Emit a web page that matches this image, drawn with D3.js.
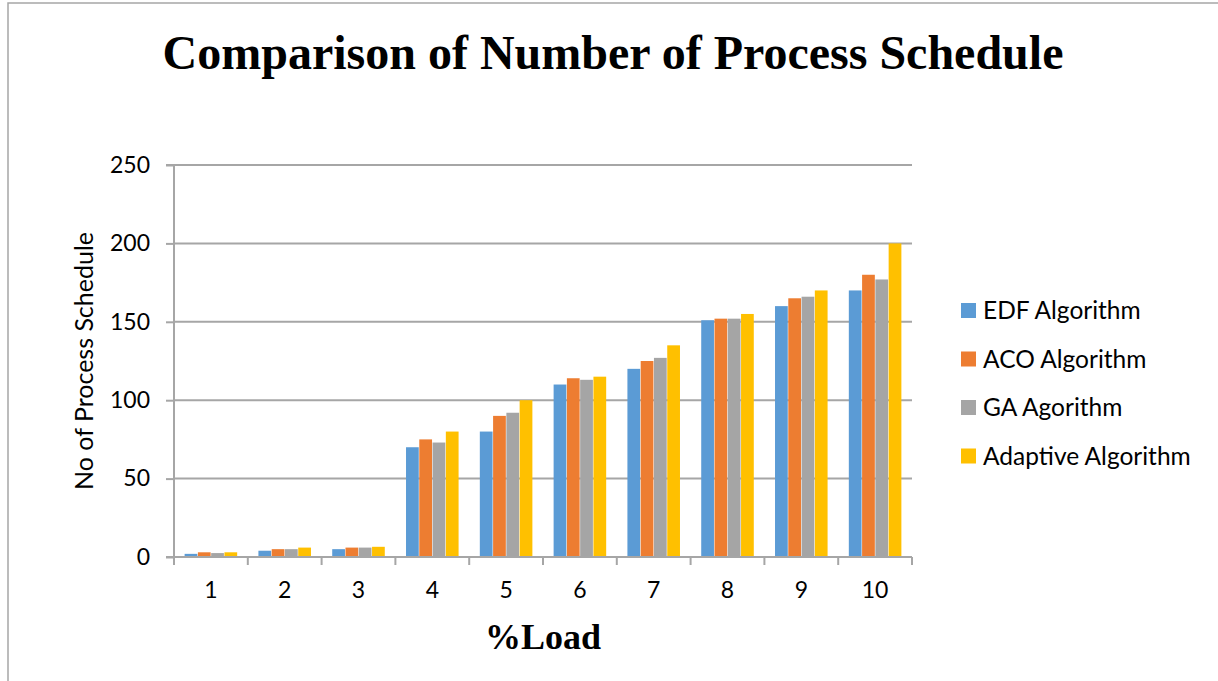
<!DOCTYPE html>
<html><head><meta charset="utf-8">
<script src="https://cdn.jsdelivr.net/npm/d3@7"></script>
<style>html,body{margin:0;padding:0;background:#fff;}svg{display:block;}</style>
</head><body>
<svg id="c" width="1218" height="681"></svg>
<script>
const categories = ["1","2","3","4","5","6","7","8","9","10"];
const seriesNames = ["EDF Algorithm","ACO Algorithm","GA Agorithm","Adaptive Algorithm"];
const edf = [2,4,5,70,80,110,120,151,160,170];
const aco = [3,5,6,75,90,114,125,152,165,180];
const ga = [2.5,5,6,73,92,113,127,152,166,177];
const adaptive = [3,6,6.5,80,100,115,135,155,170,200];
const yTicks = [0,50,100,150,200,250];
const colors = ["#5b9bd5","#ed7d31","#a5a5a5","#ffc000"];
const seriesValues = [edf, aco, ga, adaptive];

const FONT = "Lato, 'Open Sans', sans-serif";
const SERIF = "'Liberation Serif','Times New Roman',serif";
const svg = d3.select("#c");
// outer border
svg.append("rect").attr("x",8).attr("y",3).attr("width",1230).attr("height",700)
  .attr("fill","none").attr("stroke","#a6a6a6").attr("stroke-width",1.5);

const pLeft=174, pRight=912, pTop=165, pBottom=557;
const x0 = d3.scaleBand().domain(categories).range([pLeft,pRight]).padding(0);
const x1 = d3.scaleBand().domain(d3.range(4)).range([0,x0.bandwidth()]).paddingInner(0.04).paddingOuter(0.8);
const y = d3.scaleLinear().domain([0,250]).range([pBottom,pTop]);

// gridlines
svg.append("g").selectAll("line").data(yTicks.filter(d=>d>0)).join("line")
  .attr("x1",pLeft).attr("x2",pRight).attr("y1",d=>y(d)).attr("y2",d=>y(d))
  .attr("stroke","#a6a6a6").attr("stroke-width",2);

// bars
seriesValues.forEach((vals,si)=>{
  svg.append("g").selectAll("rect").data(vals).join("rect")
    .attr("x",(d,i)=>x0(categories[i])+x1(si))
    .attr("width",x1.bandwidth())
    .attr("y",d=>y(d)).attr("height",d=>y(0)-y(d))
    .attr("fill",colors[si]);
});

// y axis
const yAxis = d3.axisLeft(y).tickValues(yTicks).tickSize(8).tickPadding(16);
const gy = svg.append("g").attr("transform",`translate(${pLeft},0)`).call(yAxis);
gy.select(".domain").attr("stroke","#a6a6a6").attr("stroke-width",2).attr("d",`M-8,${pTop}H0V${pBottom}H-8`);
gy.selectAll(".tick line").attr("stroke","#a6a6a6").attr("stroke-width",2);
gy.selectAll(".tick text").attr("font-family",FONT).attr("font-size",23).attr("fill","#000");

// x axis
const xAxis = d3.axisBottom(x0).tickSize(0).tickPadding(25);
const gx = svg.append("g").attr("transform",`translate(0,${pBottom})`).call(xAxis);
gx.select(".domain").attr("stroke","#a6a6a6").attr("stroke-width",2).attr("d",`M${pLeft},0H${pRight}`);
gx.selectAll(".tick text").attr("font-family",FONT).attr("font-size",23).attr("fill","#000");
// category boundary ticks
svg.append("g").selectAll("line").data(categories.concat(["_end"])).join("line")
  .attr("x1",(d,i)=>i<categories.length?x0(d):pRight).attr("x2",(d,i)=>i<categories.length?x0(d):pRight)
  .attr("y1",pBottom).attr("y2",pBottom+8).attr("stroke","#a6a6a6").attr("stroke-width",2);

// title
svg.append("text").attr("x",613).attr("y",69).attr("text-anchor","middle")
  .attr("font-family",SERIF).attr("font-weight","bold")
  .attr("font-size",48).text("Comparison of Number of Process Schedule");

// x label
svg.append("text").attr("x",543).attr("y",649).attr("text-anchor","middle")
  .attr("font-family",SERIF).attr("font-weight","bold")
  .attr("font-size",36).text("%Load");

// y label
svg.append("text").attr("transform","translate(93,361) rotate(-90)").attr("text-anchor","middle")
  .attr("font-family",FONT).attr("font-size",25).text("No of Process Schedule");

// legend
const lg = svg.append("g");
seriesNames.forEach((n,i)=>{
  const cy = 310 + i*48.5;
  lg.append("rect").attr("x",961).attr("y",cy-7).attr("width",15).attr("height",15).attr("fill",colors[i]);
  lg.append("text").attr("x",983).attr("y",cy+9).attr("font-family",FONT)
    .attr("font-size",24.5).text(n);
});
</script>
</body></html>
